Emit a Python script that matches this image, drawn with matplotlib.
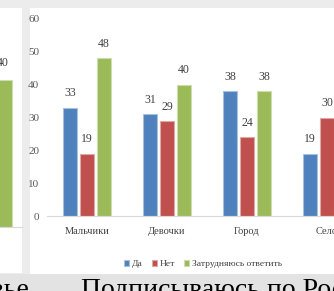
import matplotlib
matplotlib.use("Agg")
import matplotlib.pyplot as plt
from matplotlib.patches import Rectangle
import numpy as np

categories = ["Мальчики", "Девочки", "Город", "Село"]
series_names = ["Да", "Нет", "Затрудняюсь ответить"]
yes_vals = [33, 31, 38, 19]
no_vals = [19, 29, 24, 30]
hard_vals = [48, 40, 38, 0]
left_panel_val = [40]
yticks = [0, 10, 20, 30, 40, 50, 60]
colors = ["#4F81BD", "#C0504D", "#9BBB59"]
edges = ["#A7C0DE", "#DFA8A6", "#CDDDAC"]

W, H = 334, 291
plt.rcParams['font.family'] = ['Liberation Serif', 'DejaVu Serif']
fig = plt.figure(figsize=(W / 100, H / 100), dpi=100)
fig.patch.set_facecolor("#ECECEC")

def fx(px):
    return px / W

def fy(py):
    return 1 - py / H

# background panels
bg = fig.add_axes([0, 0, 1, 1], zorder=-10)
bg.set_xlim(0, W)
bg.set_ylim(H, 0)
bg.axis("off")
bg.add_patch(Rectangle((0, 274), W, H - 274, facecolor="#E3E3E3", edgecolor="none"))
bg.add_patch(Rectangle((0, 8), 22, 265, facecolor="white", edgecolor="none"))
bg.add_patch(Rectangle((30, 8), W - 30, 266, facecolor="white", edgecolor="none"))

# left partial panel
axl = fig.add_axes([fx(-60), fy(227), fx(82), fy(80) - fy(227)])
axl.set_facecolor("none")
axl.set_xlim(-0.5, 0.5)
axl.set_ylim(0, 40)
axl.bar([0.29], left_panel_val, width=0.18, color=colors[2], edgecolor=edges[2], linewidth=0.8)
axl.text(0.27, left_panel_val[0] + 3, str(left_panel_val[0]), ha="center", va="bottom",
         fontsize=8.5, color="#404040")
for s in ["top", "right", "left"]:
    axl.spines[s].set_visible(False)
axl.spines["bottom"].set_color("#D9D9D9")
axl.set_xticks([])
axl.set_yticks([])

# main axes
x0_px, x1_px = 47, 367
ax = fig.add_axes([fx(x0_px), fy(216), fx(x1_px - x0_px), fy(19) - fy(216)])
ax.set_facecolor("none")
ax.set_xlim(-0.5, 3.5)
ax.set_ylim(0, 60)
x = np.arange(len(categories))
off = 0.2125
wid = 0.17
handles = []
for i, (vals, c, e, name) in enumerate(zip([yes_vals, no_vals, hard_vals], colors, edges, series_names)):
    xs = x + (i - 1) * off
    b = ax.bar(xs, vals, width=wid, color=c, edgecolor=e, linewidth=0.8, label=name)
    handles.append(b)
    for xi, v in zip(xs, vals):
        if v > 0:
            ax.text(xi, v + 2.5, str(v), ha="center", va="bottom", fontsize=8.5, color="#404040")

for s in ["top", "right", "left"]:
    ax.spines[s].set_visible(False)
ax.spines["bottom"].set_color("#D9D9D9")
ax.set_yticks(yticks)
ax.set_yticklabels([str(t) for t in yticks], fontsize=8, color="#595959")
ax.set_xticks(x)
ax.set_xticklabels(categories, fontsize=7.5, color="#404040")
ax.tick_params(axis="both", length=0)
ax.tick_params(axis="y", pad=5.5)
ax.tick_params(axis="x", pad=8)

fig.legend(handles=handles, labels=series_names, loc="center",
           bbox_to_anchor=(fx(203), fy(264)), ncol=3, frameon=False,
           fontsize=6.8, handlelength=0.55, handleheight=0.6, handletextpad=0.25,
           columnspacing=1.0, labelcolor="#404040")

# bottom slide text (cut off)
fig.text(fx(30), fy(297), "Здоровье", ha="right", va="baseline", fontsize=20, color="black")
fig.text(fx(81), fy(297), "Подписываюсь по Российск", ha="left", va="baseline", fontsize=20, color="black")

fig.savefig("out.png", dpi=100, facecolor=fig.get_facecolor())
